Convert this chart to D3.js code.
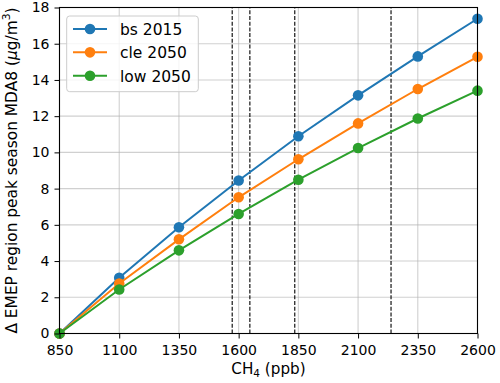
<!DOCTYPE html>
<html><head><meta charset="utf-8">
<script src="https://cdn.jsdelivr.net/npm/d3@7"></script>
<style>body{margin:0;background:#fff}svg{display:block}text{font-family:"DejaVu Sans",sans-serif;fill:#000}</style>
</head><body>
<script>
const ch4 = [850,1100,1350,1600,1850,2100,2350,2600];
const bs2015 = [0,3.08,5.87,8.45,10.89,13.15,15.30,17.38];
const cle2050 = [0,2.76,5.20,7.52,9.62,11.60,13.50,15.28];
const low2050 = [0,2.43,4.59,6.60,8.49,10.24,11.87,13.41];
const seriesNames = ["bs 2015","cle 2050","low 2050"];
const seriesColors = ["#1f77b4","#ff7f0e","#2ca02c"];
const vlines = [1573,1647,1835,2238];
const xTicks = [850,1100,1350,1600,1850,2100,2350,2600];
const yTicks = [0,2,4,6,8,10,12,14,16,18];

const W=500,H=383;
const m={l:59.5,r:22.5,t:7.5,b:49.5};
const svg=d3.select("body").append("svg").attr("width",W).attr("height",H);
const x=d3.scaleLinear().domain([850,2600]).range([m.l,W-m.r]);
const y=d3.scaleLinear().domain([0,18]).range([H-m.b,m.t]);

// grid
const g=svg.append("g");
g.selectAll(".gx").data(xTicks).enter().append("line")
 .attr("x1",d=>x(d)).attr("x2",d=>x(d)).attr("y1",y(0)).attr("y2",y(18))
 .attr("stroke","#b0b0b0").attr("stroke-opacity",0.6).attr("stroke-width",1.1);
g.selectAll(".gy").data(yTicks).enter().append("line")
 .attr("y1",d=>y(d)).attr("y2",d=>y(d)).attr("x1",x(850)).attr("x2",x(2600))
 .attr("stroke","#b0b0b0").attr("stroke-opacity",0.6).attr("stroke-width",1.1);

// vertical dashed
svg.selectAll(".vl").data(vlines).enter().append("line")
 .attr("x1",d=>x(d)).attr("x2",d=>x(d)).attr("y1",y(0)).attr("y2",y(18))
 .attr("stroke","#000").attr("stroke-width",1.1).attr("stroke-dasharray","4,1.7");

// series
const data=[bs2015,cle2050,low2050];
const line=d3.line().x((d,i)=>x(ch4[i])).y(d=>y(d));
data.forEach((s,k)=>{
  svg.append("path").attr("d",line(s)).attr("fill","none").attr("stroke",seriesColors[k]).attr("stroke-width",2);
  svg.selectAll(".p"+k).data(s).enter().append("circle")
   .attr("cx",(d,i)=>x(ch4[i])).attr("cy",d=>y(d)).attr("r",5.3).attr("fill",seriesColors[k]);
});

// axes
const xa=svg.append("g").attr("transform",`translate(0,${y(0)})`)
 .call(d3.axisBottom(x).tickValues(xTicks).tickFormat(d3.format("d")).tickSizeOuter(0).tickSize(5).tickPadding(7));
const ya=svg.append("g").attr("transform",`translate(${x(850)},0)`)
 .call(d3.axisLeft(y).tickValues(yTicks).tickSizeOuter(0).tickSize(5).tickPadding(5));
[xa,ya].forEach(a=>{a.select(".domain").remove();a.selectAll("text").attr("font-size",14).attr("font-family","DejaVu Sans");a.selectAll("line").attr("stroke","#000").attr("stroke-width",1);});
// frame
svg.append("rect").attr("x",x(850)).attr("y",y(18)).attr("width",x(2600)-x(850)).attr("height",y(0)-y(18))
 .attr("fill","none").attr("stroke","#000").attr("stroke-width",1.1);

// x label
const xl=svg.append("text").attr("x",(x(850)+x(2600))/2).attr("y",374).attr("text-anchor","middle").attr("font-size",15.2);
xl.append("tspan").text("CH");
xl.append("tspan").text("4").attr("font-size",10.5).attr("dy",3);
xl.append("tspan").text(" (ppb)").attr("dy",-3);

// y label
const yl=svg.append("text").attr("transform",`translate(16.5,${(y(0)+y(18))/2}) rotate(-90)`).attr("text-anchor","middle").attr("font-size",15.4);
yl.append("tspan").text("Δ EMEP region peak season MDA8 (");
yl.append("tspan").text("μ").attr("font-style","italic");
yl.append("tspan").text("g/m");
yl.append("tspan").text("3").attr("font-size",10.8).attr("dy",-6.5);
yl.append("tspan").text(")").attr("dy",6.5);

// legend
const lg=svg.append("g");
lg.append("rect").attr("x",66.7).attr("y",16).attr("width",131.6).attr("height",75.7).attr("rx",3)
 .attr("fill","#fff").attr("fill-opacity",0.8).attr("stroke","#cccccc").attr("stroke-width",1);
seriesNames.forEach((n,k)=>{
  const yy=29+k*23.35;
  lg.append("line").attr("x1",73).attr("x2",107).attr("y1",yy).attr("y2",yy).attr("stroke",seriesColors[k]).attr("stroke-width",2);
  lg.append("circle").attr("cx",90).attr("cy",yy).attr("r",5.3).attr("fill",seriesColors[k]);
  lg.append("text").attr("x",120).attr("y",yy+6).attr("font-size",15.5).text(n);
});
</script>
</body></html>
